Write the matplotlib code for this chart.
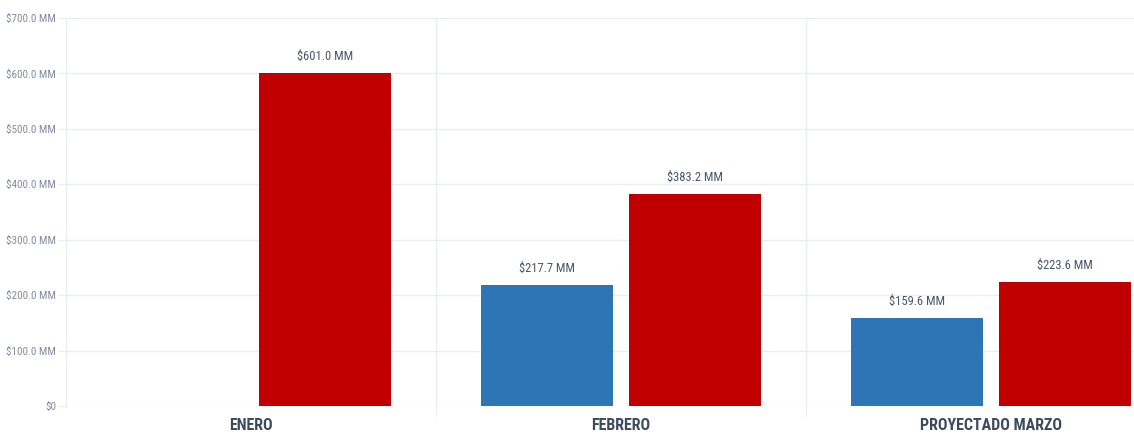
import numpy as np
import matplotlib
matplotlib.use('Agg')
import matplotlib.pyplot as plt
from matplotlib import font_manager

# Datos (millones)
categorias = ['ENERO', 'FEBRERO', 'PROYECTADO MARZO']
serie_azul = [np.nan, 217.7, 159.6]
serie_roja = [601.0, 383.2, 223.6]
y_ticks = [0, 100, 200, 300, 400, 500, 600, 700]

AZUL = '#2e75b6'
ROJO = '#c00000'
GRID = '#e9ecf1'

# fuente condensada si existe
names = {f.name for f in font_manager.fontManager.ttflist}
candidatas = ['Arial Narrow', 'Liberation Sans Narrow', 'Roboto Condensed',
              'PT Sans Narrow', 'Archivo Narrow', 'Open Sans Condensed', 'Liberation Sans']
fuente = next((c for c in candidatas if c in names), 'DejaVu Sans')
plt.rcParams['font.family'] = [fuente, 'DejaVu Sans']

fig = plt.figure(figsize=(11.34, 4.38), dpi=100)
ax = fig.add_axes([66 / 1134, 32 / 438, (1134 - 66) / 1134, 388 / 438])

x = np.arange(len(categorias))
w = 0.357
ax.bar(x - 0.2, serie_azul, width=w, color=AZUL, zorder=3)
ax.bar(x + 0.2, serie_roja, width=w, color=ROJO, zorder=3)

def fmt(v):
    return f'${v:.1f} MM'

for xi, v in zip(x, serie_azul):
    if not np.isnan(v):
        ax.annotate(fmt(v), (xi - 0.2, v), xytext=(0, 9.5), textcoords='offset points',
                    ha='center', va='baseline', fontsize=9, color='#4a5568')
for xi, v in zip(x, serie_roja):
    ax.annotate(fmt(v), (xi + 0.2, v), xytext=(0, 9.5), textcoords='offset points',
                ha='center', va='baseline', fontsize=9, color='#4a5568')

ax.set_ylim(0, 700)
ax.set_xlim(-0.5, (1134 - 66) / 370 - 0.5)
ax.set_yticks(y_ticks)
ax.set_yticklabels(['$0' if t == 0 else f'${t:.1f} MM' for t in y_ticks],
                   fontsize=8, color='#838c9e')
ax.set_xticks(x)
ax.set_xticklabels(categorias, fontsize=11.5, fontweight='bold', color='#3d4a5c')
ax.tick_params(axis='x', length=0, pad=9)
ax.tick_params(axis='y', length=6, color=GRID, pad=1)

# rejilla: horizontales en cada tick, verticales entre categorias
ax.grid(axis='y', color=GRID, linewidth=1, zorder=0)
ax.set_xticks([0.5, 1.5], minor=True)
ax.tick_params(axis='x', which='minor', length=8, color=GRID)
ax.grid(axis='x', which='minor', color=GRID, linewidth=1, zorder=0)

for s in ['top', 'right', 'bottom']:
    ax.spines[s].set_visible(False)
ax.spines['left'].set_color(GRID)

fig.savefig('out.png', dpi=100)
